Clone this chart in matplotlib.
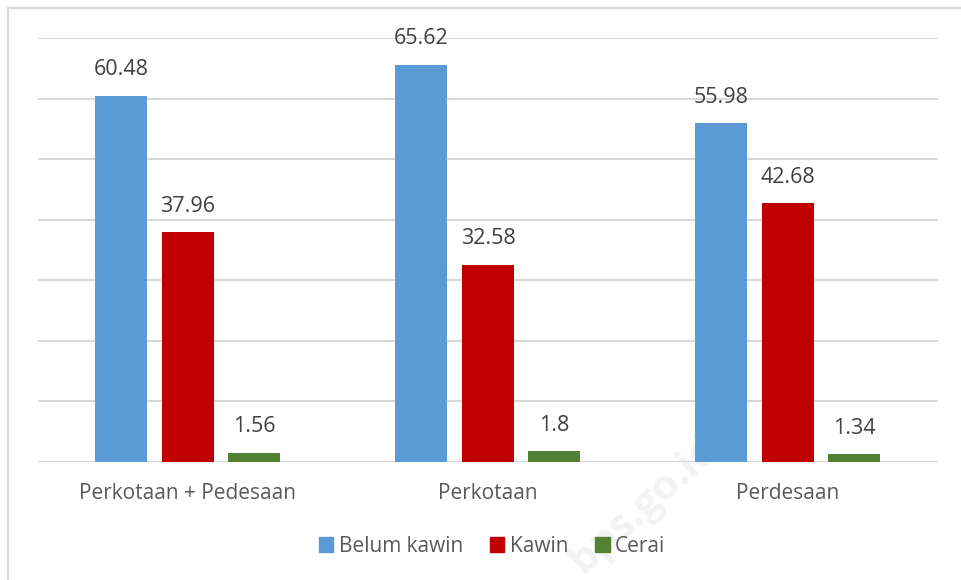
import matplotlib
matplotlib.use("Agg")
import matplotlib.pyplot as plt
import numpy as np
from matplotlib.patches import Rectangle, Patch

categories = ["Perkotaan + Pedesaan", "Perkotaan", "Perdesaan"]
series_names = ["Belum kawin", "Kawin", "Cerai"]
belum_kawin = [60.48, 65.62, 55.98]
kawin = [37.96, 32.58, 42.68]
cerai = [1.56, 1.8, 1.34]
colors = ["#5B9BD5", "#C00000", "#548235"]

plt.rcParams['font.family'] = ['Open Sans', 'DejaVu Sans']

fig = plt.figure(figsize=(9.62, 5.8), dpi=100)
W, H = 962, 580
ax = fig.add_axes([38 / W, 1 - 462 / H, 900 / W, (462 - 38) / H])
ax.patch.set_alpha(0)

x = np.arange(len(categories))
width = 52 / 300
offs = 66.5 / 300
data = [belum_kawin, kawin, cerai]
for i, (vals, c) in enumerate(zip(data, colors)):
    bars = ax.bar(x + (i - 1) * offs, vals, width, color=c, zorder=3, label=series_names[i])
    for b, v in zip(bars, vals):
        ax.annotate(f"{v:g}", (b.get_x() + b.get_width() / 2, v), xytext=(0, 11),
                    textcoords="offset points", ha="center", va="bottom",
                    fontsize=15.5, color="#404040")

ax.set_xlim(-0.5, 2.5)
ax.set_ylim(0, 70)
ax.set_yticks(np.arange(0, 71, 10))
ax.set_yticklabels([])
ax.tick_params(axis="y", length=0)
ax.tick_params(axis="x", length=0, pad=15, labelsize=15, labelcolor="#595959")
ax.set_xticks(x)
ax.set_xticklabels(categories)
ax.grid(axis="y", color="#d9d9d9", linewidth=1.5, zorder=0)
for s in ax.spines.values():
    s.set_visible(False)

handles = [Patch(color=c, label=n) for c, n in zip(colors, series_names)]
fig.legend(handles=handles, loc="center", bbox_to_anchor=(492 / W, 1 - 546 / H), ncol=3,
           frameon=False, fontsize=15, labelcolor="#595959", handlelength=0.7,
           handleheight=0.7, handletextpad=0.25, columnspacing=1.3)

fig.patches.append(Rectangle((8 / W, -0.1), 1.2, 1.1 - 8 / H, transform=fig.transFigure,
                             fill=False, edgecolor="#d9d9d9", linewidth=1.5))

fig.text(645 / W, 1 - 505 / H, "bps.go.id", rotation=42, fontsize=30, fontweight="bold",
         color="#f3f3f3", ha="center", va="center", zorder=-1)

fig.savefig("out.png", dpi=100)
